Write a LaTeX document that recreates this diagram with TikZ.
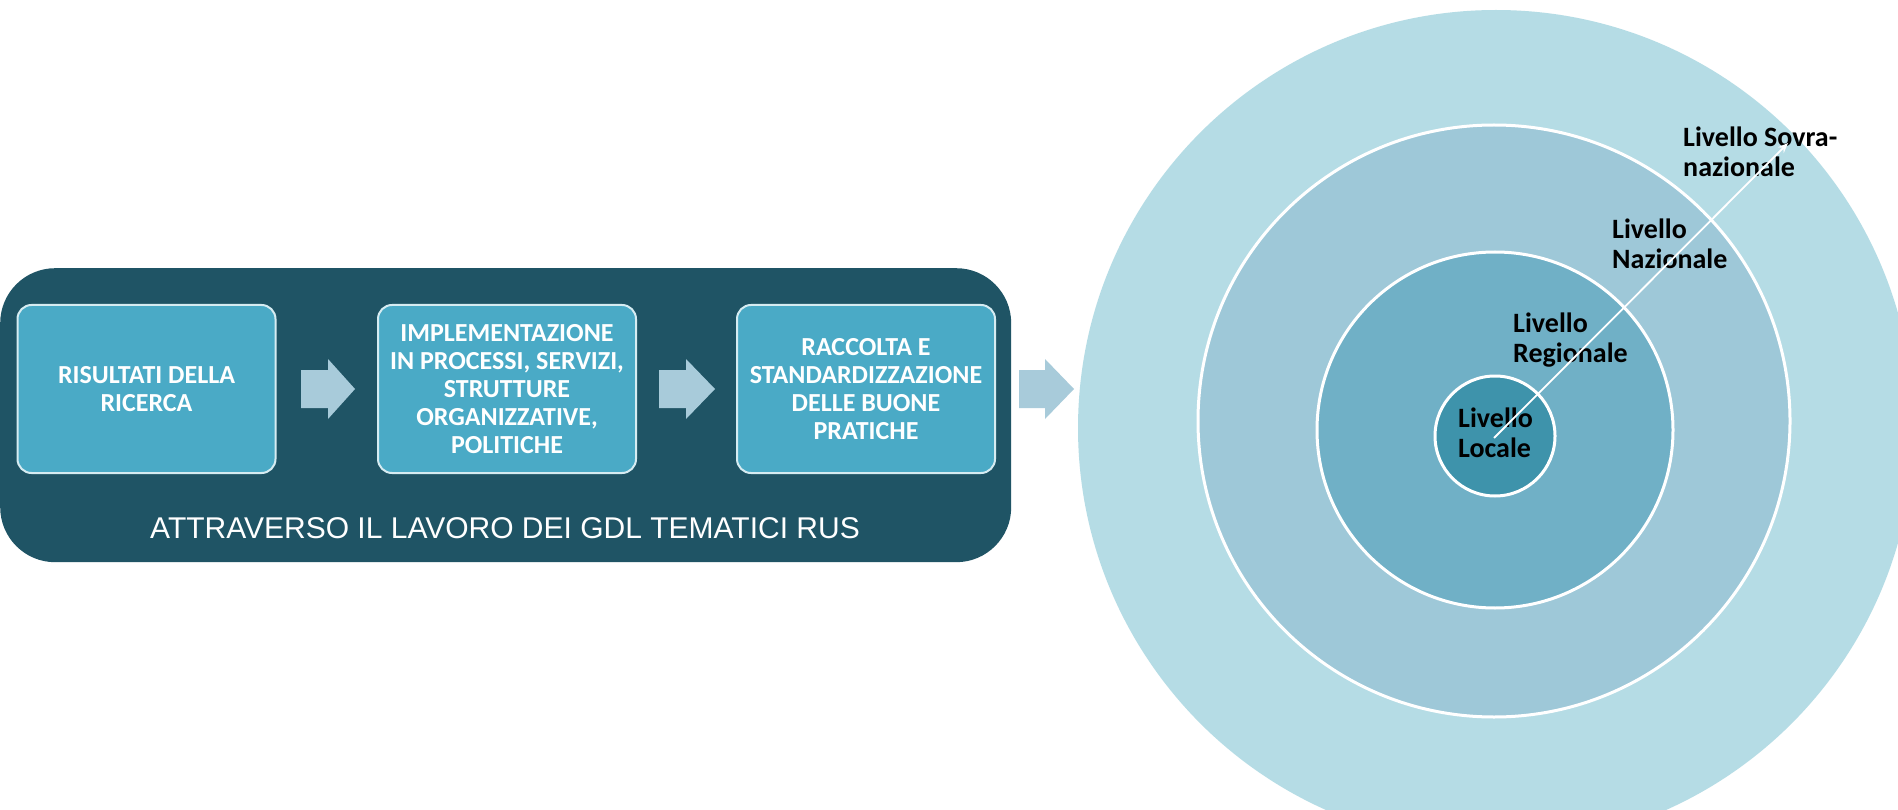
\documentclass[tikz,border=0pt]{standalone}
\usepackage{fontspec}
\setmainfont{Carlito}
\newfontfamily\arialfont{Liberation Sans}
\usetikzlibrary{arrows.meta}
\definecolor{panel}{HTML}{1F5465}
\definecolor{boxfill}{HTML}{4AAAC6}
\definecolor{boxline}{HTML}{D6ECF2}
\definecolor{arrowfill}{HTML}{A8CBDA}
\definecolor{outerc}{HTML}{B5DCE5}
\definecolor{natc}{HTML}{9EC8D8}
\definecolor{regc}{HTML}{70B0C6}
\definecolor{locc}{HTML}{3E93AB}
\begin{document}
\begin{tikzpicture}[x=1pt,y=-1pt,
  stepbox/.style={draw=boxline, line width=2pt, fill=boxfill, rounded corners=14pt,
    text=white, font=\bfseries\fontsize{26}{28}\selectfont, align=center,
    inner sep=0pt, minimum width=258pt, minimum height=168pt},
  blockarrow/.style={fill=arrowfill, draw=none},
  ring/.style={draw=white, line width=3pt},
  lvl/.style={font=\bfseries\fontsize{28}{30}\selectfont, align=left,
    anchor=base west, inner sep=0pt, text=black}]
\useasboundingbox (0,0) rectangle (1898,810);
\clip (0,0) rectangle (1898,810);
\fill[white] (0,0) rectangle (1898,810);
% left panel
\node[fill=panel, rounded corners=55pt, minimum width=1011pt, minimum height=294pt,
  inner sep=0pt, anchor=north west] (panel) at (0,268) {};
\node[stepbox] (b1) at (146.5,389) {RISULTATI DELLA\\RICERCA};
\node[stepbox] (b2) at (507,389) {IMPLEMENTAZIONE\\IN PROCESSI, SERVIZI,\\STRUTTURE\\ORGANIZZATIVE,\\POLITICHE};
\node[stepbox] (b3) at (866,389) {RACCOLTA E\\STANDARDIZZAZIONE\\DELLE BUONE\\PRATICHE};
\node[font=\arialfont\fontsize{30}{36}\selectfont, text=white, anchor=base, inner sep=0pt]
  (via) at (505,538) {ATTRAVERSO IL LAVORO DEI GDL TEMATICI RUS};
% block arrows
\fill[blockarrow] (301,370) -- (328,370) -- (328,359) -- (355,389) -- (328,419) -- (328,408) -- (301,408) -- cycle;
\fill[blockarrow] (659,370) -- (686,370) -- (686,359) -- (715,389) -- (686,419) -- (686,408) -- (659,408) -- cycle;
\fill[blockarrow] (1019,370) -- (1045,370) -- (1045,359) -- (1074,389) -- (1045,419) -- (1045,408) -- (1019,408) -- cycle;
% circles
\fill[outerc] (1496,428) circle (418pt);
\draw[ring, fill=natc] (1494,421) circle (296pt);
\draw[ring, fill=regc] (1495,430) circle (178pt);
\draw[ring, fill=locc] (1495,436) circle (60pt);
% labels (anchored at the baseline of their last line)
\node[lvl] (sovra) at (1683,177) {Livello Sovra-\\nazionale};
\node[lvl] (naz) at (1612,269) {Livello\\Nazionale};
\node[lvl] (reg) at (1513,362) {Livello\\Regionale};
\node[lvl] (loc) at (1458,457) {Livello\\Locale};
% arrow
\coordinate (ctr) at (1494,438);
\coordinate (tip) at (1788,143);
\draw[white, line width=1.8pt, -{Stealth[length=10pt,width=8pt]}] (ctr) -- (tip);
\end{tikzpicture}
\end{document}
